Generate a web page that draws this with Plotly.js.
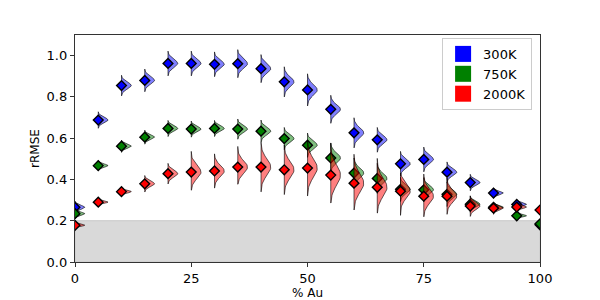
<!DOCTYPE html>
<html>
<head>
<meta charset="utf-8">
<script src="https://cdn.plot.ly/plotly-3.0.1.min.js"></script>
<style>html,body{margin:0;padding:0;background:#fff;}#chart{width:600px;height:300px;}</style>
</head>
<body>
<div id="chart"></div>
<script>
// Composition (% Au)
const pctAu = [0,5,10,15,20,25,30,35,40,45,50,55,60,65,70,75,80,85,90,95,100];
const xTicks = [0,25,50,75,100];

// Series labels
const seriesNames = ["300K","750K","2000K"];

// Mean rRMSE (diamonds)
const mean300 = [0.265,0.688,0.855,0.880,0.962,0.962,0.958,0.961,0.937,0.873,0.834,0.740,0.626,0.592,0.476,0.497,0.435,0.385,0.334,0.279,0.180];
const mean750 = [0.234,0.467,0.561,0.605,0.647,0.644,0.647,0.644,0.634,0.598,0.566,0.504,0.431,0.405,0.352,0.350,0.328,0.280,0.265,0.224,0.185];
const mean2000 = [0.178,0.290,0.341,0.379,0.428,0.436,0.441,0.460,0.460,0.447,0.455,0.421,0.382,0.362,0.343,0.319,0.319,0.271,0.261,0.266,0.252];

// Distribution extents (distance below / above the mean)
const down300 = [0.030,0.040,0.050,0.055,0.060,0.060,0.060,0.068,0.068,0.073,0.078,0.068,0.073,0.060,0.060,0.060,0.050,0.040,0.025,0.020,0.015];
const up300 = down300;
const down750 = [0.024,0.024,0.030,0.034,0.039,0.039,0.039,0.049,0.054,0.054,0.059,0.073,0.073,0.073,0.059,0.059,0.059,0.039,0.024,0.015,0.015];
const up750 = down750;
const down2000 = [0.015,0.015,0.020,0.040,0.050,0.088,0.083,0.083,0.120,0.120,0.135,0.135,0.130,0.125,0.117,0.100,0.088,0.050,0.030,0.020,0.015];
const up2000 = [0.015,0.015,0.020,0.040,0.050,0.100,0.083,0.100,0.120,0.120,0.135,0.155,0.140,0.140,0.088,0.107,0.088,0.050,0.030,0.020,0.015];

const markerColors = ["blue","green","red"];
const fillColors = ["rgba(0,0,255,0.5)","rgba(0,128,0,0.5)","rgba(255,0,0,0.5)"];

const HALF_W = 2.1;   // max half-violin width in x units
const NSTEP = 40;

function violinTrace(xc, c, dn, up, fill) {
  const lo = c - dn, hi = c + up;
  const sd = (dn + up) / 6;
  const xs = [], ys = [];
  for (let i = 0; i <= NSTEP; i++) {
    const y = lo + (hi - lo) * i / NSTEP;
    const z = (y - c) / sd;
    xs.push(xc + HALF_W * Math.exp(-0.5 * z * z));
    ys.push(y);
  }
  xs.push(xc); ys.push(hi);
  xs.push(xc); ys.push(lo);
  xs.push(xs[0]); ys.push(ys[0]);
  return {
    x: xs, y: ys, type: "scatter", mode: "lines", fill: "toself",
    fillcolor: fill, line: {color: "rgba(0,0,0,0.6)", width: 1},
    hoverinfo: "skip", showlegend: false
  };
}

const series = [
  {m: mean300, d: down300, u: up300},
  {m: mean750, d: down750, u: up750},
  {m: mean2000, d: down2000, u: up2000}
];

const traces = [];
series.forEach((s, k) => {
  for (let i = 0; i < pctAu.length; i++) {
    traces.push(violinTrace(pctAu[i], s.m[i], s.d[i], s.u[i], fillColors[k]));
  }
  traces.push({
    x: pctAu, y: s.m, type: "scatter", mode: "markers",
    marker: {symbol: "diamond", size: 7.5, color: markerColors[k], line: {color: "black", width: 1.4}},
    showlegend: false, hoverinfo: "skip"
  });
});
// legend entries
seriesNames.forEach((n, k) => {
  traces.push({
    x: [null], y: [null], type: "scatter", mode: "markers", name: n,
    marker: {symbol: "square", size: 16, color: markerColors[k]}
  });
});

const font = {family: "DejaVu Sans, sans-serif", color: "#000"};
const layout = {
  width: 600, height: 300,
  margin: {l: 75, r: 60, t: 35, b: 38},
  paper_bgcolor: "#fff", plot_bgcolor: "#fff",
  font: Object.assign({size: 13}, font),
  showlegend: true,
  legend: {
    x: 0.983, y: 0.987, xanchor: "right", yanchor: "top",
    bgcolor: "rgba(255,255,255,0.8)", bordercolor: "#cccccc", borderwidth: 1,
    font: Object.assign({size: 13}, font), itemsizing: "trace", tracegroupgap: 0
  },
  xaxis: {
    range: [0, 100], tickmode: "array", tickvals: xTicks, ticktext: xTicks.map(String),
    showgrid: false, zeroline: false, showline: true, mirror: true,
    linecolor: "#333", linewidth: 1.2, ticks: "outside", ticklen: 4, tickcolor: "#333",
    tickfont: Object.assign({size: 13}, font),
    title: {text: "% Au", font: Object.assign({size: 12}, font), standoff: 2}
  },
  yaxis: {
    range: [0, 1.1], dtick: 0.2, tick0: 0, tickformat: ".1f",
    showgrid: false, zeroline: false, showline: true, mirror: true,
    linecolor: "#333", linewidth: 1.2, ticks: "outside", ticklen: 4, tickcolor: "#333",
    tickfont: Object.assign({size: 13}, font),
    title: {text: "rRMSE", font: Object.assign({size: 12}, font), standoff: 4}
  },
  shapes: [{
    type: "rect", xref: "paper", yref: "y", x0: 0, x1: 1, y0: 0, y1: 0.2,
    fillcolor: "rgb(217,217,217)", line: {color: "rgb(200,200,200)", width: 1}, layer: "below"
  }]
};

Plotly.newPlot("chart", traces, layout, {displayModeBar: false, staticPlot: true});
</script>
</body>
</html>
